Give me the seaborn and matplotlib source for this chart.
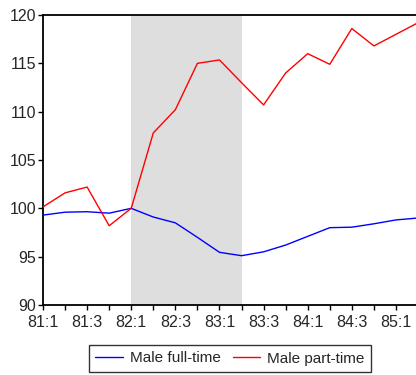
import pandas as pd
import matplotlib.pyplot as plt
import seaborn as sns
from matplotlib.ticker import MultipleLocator
from matplotlib.lines import Line2D

# data (index 1981Q1 = 100 approx)
quarters = ["81:1", "81:2", "81:3", "81:4", "82:1", "82:2", "82:3", "82:4",
            "83:1", "83:2", "83:3", "83:4", "84:1", "84:2", "84:3", "84:4",
            "85:1", "85:2"]
full_time = [99.3, 99.6, 99.65, 99.5, 100.0, 99.1, 98.5, 97.0,
             95.45, 95.1, 95.5, 96.2, 97.1, 98.0, 98.05, 98.4,
             98.8, 99.0]
part_time = [100.15, 101.6, 102.2, 98.2, 100.0, 107.8, 110.2, 115.0,
             115.35, 113.0, 110.7, 114.0, 116.0, 114.9, 118.6, 116.8,
             118.0, 119.2]
shade_from, shade_to = "82:1", "83:2"

df = pd.DataFrame({"t": range(len(quarters)), "Male full-time": full_time,
                   "Male part-time": part_time})
long = df.melt(id_vars="t", var_name="series", value_name="value")

sns.set_style("white")
plt.rcParams['font.family'] = ['Liberation Sans', 'DejaVu Sans']

fig = plt.figure(figsize=(4.16, 3.75), dpi=100)
ax = fig.add_axes([43 / 416, 70 / 375, 375 / 416, 290 / 375])

ax.axvspan(quarters.index(shade_from), quarters.index(shade_to),
           color="#dedede", lw=0, zorder=0)

sns.lineplot(data=long, x="t", y="value", hue="series",
             palette={"Male full-time": "#0000ff", "Male part-time": "#ff0000"},
             linewidth=1.0, legend=False, ax=ax, zorder=3)

ax.set_xlim(0, len(quarters) - 1)
ax.set_ylim(90, 120)
ax.yaxis.set_major_locator(MultipleLocator(5))
ax.xaxis.set_minor_locator(MultipleLocator(1))
ticks = list(range(0, len(quarters), 2))
ax.set_xticks(ticks)
ax.set_xticklabels([quarters[i] for i in ticks])
ax.set_xlabel("")
ax.set_ylabel("")

for s in ["left", "top", "bottom"]:
    ax.spines[s].set_color("black")
    ax.spines[s].set_linewidth(1.3)
ax.spines["right"].set_visible(False)
ax.tick_params(axis="both", which="both", direction="out", length=3.5,
               width=1.0, color="black", labelsize=11.5, bottom=True, left=True)
ax.tick_params(axis="x", which="major", pad=3.5)
ax.tick_params(axis="y", which="major", pad=1.5)

handles = [Line2D([], [], color="#0000ff", lw=1.0),
           Line2D([], [], color="#ff0000", lw=1.0)]
leg = fig.legend(handles, ["Male full-time", "Male part-time"], loc="center",
                 bbox_to_anchor=(230 / 416, 1 - 358.5 / 375), ncol=2,
                 fontsize=11, frameon=True, fancybox=False, handlelength=1.8,
                 handletextpad=0.45, columnspacing=0.8, borderpad=0.45,
                 borderaxespad=0)
leg.get_frame().set_edgecolor("black")
leg.get_frame().set_linewidth(1.0)

fig.savefig("out.png", dpi=100)
